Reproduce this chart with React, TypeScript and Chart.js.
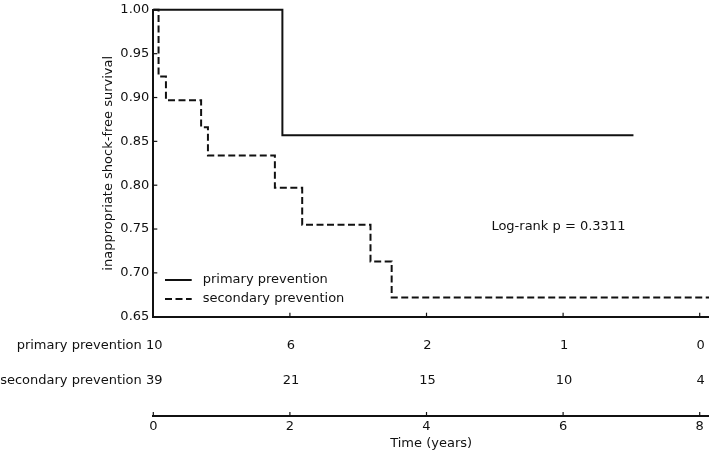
import React, { useEffect, useRef } from 'react';
import { Chart, registerables } from 'chart.js';

Chart.register(...registerables);

// ---- data ----
const primaryTimes = [0, 1.89, 7.03];
const primarySurvival = [1.0, 0.857, 0.857];
const secondaryTimes = [0, 0.077, 0.185, 0.7, 0.8, 1.78, 2.18, 3.18, 3.49, 8.3];
const secondarySurvival = [1.0, 0.924, 0.897, 0.866, 0.834, 0.797, 0.755, 0.713, 0.672, 0.672];
const groupLabels = ['primary prevention', 'secondary prevention'];
const riskTimes = [0, 2, 4, 6, 8];
const primaryAtRisk = [10, 6, 2, 1, 0];
const secondaryAtRisk = [39, 21, 15, 10, 4];
const yAxisTitle = 'inappropriate shock-free survival';
const xAxisTitle = 'Time (years)';
const pValueText = 'Log-rank p = 0.3311';
const pValueAt = { x: 4.95, y: 0.753 };

const X_MIN = 0;
const X_MAX = 8.136;
const Y_MIN = 0.65;
const Y_MAX = 1.0;

const FONT = "'DejaVu Sans', sans-serif";
const SIZE = 13;
const INK = '#111111';

function toPoints(xs: number[], ys: number[]) {
  return xs.map((x, i) => ({ x, y: ys[i] }));
}

const overlay = {
  id: 'kmOverlay',
  afterDraw(chart: any) {
    const { ctx, chartArea } = chart;
    const xs = chart.scales.x;
    const x2 = chart.scales.x2;
    const ys = chart.scales.y;
    ctx.save();
    ctx.strokeStyle = INK;
    ctx.lineWidth = 1.2;
    const tl = 4;
    // inward ticks on y axis
    ys.ticks.forEach((t: any) => {
      const py = ys.getPixelForValue(t.value);
      ctx.beginPath();
      ctx.moveTo(chartArea.left, py);
      ctx.lineTo(chartArea.left + tl, py);
      ctx.stroke();
    });
    // inward ticks on upper x axis and lower time axis
    riskTimes.forEach((t) => {
      const px = xs.getPixelForValue(t);
      ctx.beginPath();
      ctx.moveTo(px, chartArea.bottom);
      ctx.lineTo(px, chartArea.bottom - tl);
      ctx.stroke();
      const px2 = x2.getPixelForValue(t);
      ctx.beginPath();
      ctx.moveTo(px2, x2.top);
      ctx.lineTo(px2, x2.top - tl);
      ctx.stroke();
    });

    ctx.fillStyle = INK;
    ctx.font = `${SIZE}px ${FONT}`;
    ctx.textBaseline = 'middle';

    // risk table
    const rows = [primaryAtRisk, secondaryAtRisk];
    const gap = x2.top - chartArea.bottom;
    const rowY = [chartArea.bottom + gap * 0.292, chartArea.bottom + gap * 0.647];
    rows.forEach((vals, r) => {
      ctx.textAlign = 'right';
      ctx.fillText(groupLabels[r], chartArea.left - 11.5, rowY[r]);
      ctx.textAlign = 'center';
      vals.forEach((v, i) => {
        ctx.fillText(String(v), x2.getPixelForValue(riskTimes[i]) + 1, rowY[r]);
      });
    });

    // legend (inside plot, lower-left)
    const lx0 = chartArea.left + 11.7;
    const lx1 = chartArea.left + 38.4;
    const ly = [chartArea.bottom - 36.7, chartArea.bottom - 17.7];
    chart.data.datasets.forEach((ds: any, i: number) => {
      ctx.save();
      ctx.lineWidth = ds.borderWidth;
      ctx.strokeStyle = ds.borderColor;
      ctx.setLineDash(ds.borderDash || []);
      ctx.beginPath();
      ctx.moveTo(lx0, ly[i]);
      ctx.lineTo(lx1, ly[i]);
      ctx.stroke();
      ctx.restore();
      ctx.textAlign = 'left';
      ctx.fillText(ds.label, chartArea.left + 49.4, ly[i]);
    });

    // log-rank annotation
    ctx.textAlign = 'left';
    ctx.fillText(pValueText, xs.getPixelForValue(pValueAt.x), ys.getPixelForValue(pValueAt.y));
    ctx.restore();
  },
};

export default function App() {
  const canvasRef = useRef<HTMLCanvasElement | null>(null);

  useEffect(() => {
    if (!canvasRef.current) return;
    Chart.defaults.font.family = FONT;
    Chart.defaults.font.size = SIZE;
    Chart.defaults.color = INK;
    const chart = new Chart(canvasRef.current, {
      type: 'line',
      data: {
        datasets: [
          {
            label: groupLabels[0],
            data: toPoints(primaryTimes, primarySurvival),
            stepped: true,
            borderColor: INK,
            borderWidth: 2,
            pointRadius: 0,
            fill: false,
            clip: 4,
            xAxisID: 'x',
            yAxisID: 'y',
          },
          {
            label: groupLabels[1],
            data: toPoints(secondaryTimes, secondarySurvival),
            stepped: true,
            borderColor: INK,
            borderWidth: 2,
            borderDash: [7, 3.5],
            pointRadius: 0,
            fill: false,
            clip: 4,
            xAxisID: 'x',
            yAxisID: 'y',
          },
        ],
      },
      options: {
        animation: false,
        responsive: true,
        maintainAspectRatio: false,
        layout: { padding: 0 },
        plugins: {
          legend: { display: false },
          tooltip: { enabled: false },
        },
        scales: {
          x: {
            type: 'linear',
            position: 'bottom',
            weight: 0,
            min: X_MIN,
            max: X_MAX,
            grid: { display: false, drawTicks: false },
            border: { display: true, color: INK, width: 2 },
            ticks: { display: false, stepSize: 2, includeBounds: false },
            afterFit: (s: any) => {
              s.height = 99.3;
            },
          },
          x2: {
            type: 'linear',
            position: 'bottom',
            weight: 1,
            min: X_MIN,
            max: X_MAX,
            grid: { display: false, drawTicks: false },
            border: { display: true, color: INK, width: 2 },
            ticks: {
              stepSize: 2,
              includeBounds: false,
              padding: 3,
              maxRotation: 0,
              font: { size: SIZE },
              color: INK,
              callback: (v: any) => String(v),
            },
            title: {
              display: true,
              text: xAxisTitle,
              font: { size: SIZE },
              color: INK,
              padding: { top: 1.6, bottom: 0 },
            },
            afterFit: (s: any) => {
              s.height = 35;
            },
          },
          y: {
            type: 'linear',
            position: 'left',
            min: Y_MIN,
            max: Y_MAX,
            grid: { display: false, drawTicks: false },
            border: { display: true, color: INK, width: 2 },
            ticks: {
              stepSize: 0.05,
              includeBounds: false,
              padding: 4,
              font: { size: SIZE, lineHeight: 0.9 },
              color: INK,
              callback: (v: any) => Number(v).toFixed(2),
            },
            title: {
              display: true,
              text: yAxisTitle,
              font: { size: SIZE },
              color: INK,
              padding: { top: 100.8, bottom: 0 },
            },
            afterFit: (s: any) => {
              s.width = 153.3;
            },
          },
        },
      } as any,
      plugins: [overlay],
    });
    return () => chart.destroy();
  }, []);

  return (
    <div style={{ position: 'absolute', left: 0, top: 0, width: 709, height: 451, background: '#fff' }}>
      <canvas ref={canvasRef} />
    </div>
  );
}
